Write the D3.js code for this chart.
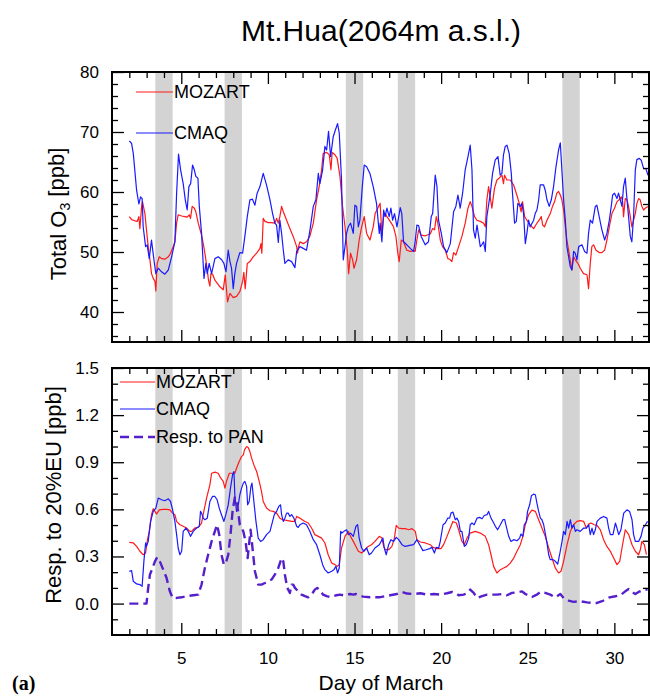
<!DOCTYPE html>
<html>
<head>
<meta charset="utf-8">
<script src="https://cdn.jsdelivr.net/npm/d3@7"></script>
<style>
  html, body { margin: 0; padding: 0; background: #fff; }
  svg { display: block; font-family: "Liberation Sans", Arial, Helvetica, sans-serif; }
</style>
</head>
<body>
<svg id="chart" width="650" height="696"></svg>
<script>
// Mt.Hua surface ozone, March: total O3 and response to a 20% EU emission cut.
// Each series is a list of [day of March, value] pairs.

const stormDays = [[3.5, 4.5], [7.5, 8.5], [14.5, 15.5], [17.5, 18.5], [27, 28]];

const totalMozart = [[2.00,55.9],[2.13,55.4],[2.32,55.2],[2.46,55.1],[2.55,55.9],[2.61,53.9],[2.71,57.6],[2.76,58.4],[2.90,56.4],[2.99,53.7],[3.09,50.9],[3.19,48.7],[3.28,46.4],[3.38,45.6],[3.48,45.1],[3.53,43.5],[3.61,48.1],[3.73,49.2],[3.86,48.9],[4.05,48.8],[4.25,49.2],[4.38,49.8],[4.53,50.9],[4.63,51.7],[4.73,54.8],[4.82,56.2],[5.02,56.0],[5.21,55.9],[5.34,55.8],[5.46,56.2],[5.53,55.6],[5.63,57.6],[5.75,57.3],[5.84,56.7],[5.98,54.8],[6.17,52.8],[6.30,50.9],[6.42,48.7],[6.50,47.0],[6.57,45.3],[6.65,44.3],[6.71,46.4],[6.81,46.3],[6.94,45.3],[7.07,44.8],[7.23,44.2],[7.42,43.7],[7.54,46.2],[7.61,43.7],[7.67,41.7],[7.81,43.1],[8.00,42.4],[8.19,42.6],[8.38,43.4],[8.54,45.1],[8.61,46.6],[8.69,43.9],[8.81,48.1],[8.96,48.4],[9.15,49.2],[9.35,49.8],[9.54,50.6],[9.60,51.4],[9.65,49.8],[9.73,55.6],[9.83,55.1],[10.02,54.9],[10.21,54.9],[10.40,54.8],[10.50,55.6],[10.60,54.8],[10.69,55.9],[10.79,57.6],[10.89,56.7],[11.08,55.3],[11.27,53.9],[11.46,52.6],[11.66,50.9],[11.71,49.8],[11.77,50.9],[11.85,51.7],[12.04,51.4],[12.23,51.7],[12.42,52.6],[12.62,54.8],[12.81,58.7],[12.96,60.9],[13.10,63.7],[13.19,66.4],[13.39,66.6],[13.54,66.2],[13.64,63.7],[13.71,66.6],[13.87,66.2],[14.00,65.6],[14.16,62.6],[14.31,57.6],[14.45,54.2],[14.58,50.3],[14.66,46.4],[14.77,49.8],[14.89,48.7],[14.97,47.3],[15.12,48.7],[15.27,52.0],[15.41,54.2],[15.56,55.9],[15.70,53.1],[15.89,52.0],[16.08,54.2],[16.19,56.4],[16.39,57.6],[16.48,58.1],[16.58,52.8],[16.68,55.9],[16.77,56.4],[16.87,55.9],[17.06,55.1],[17.25,54.2],[17.39,52.6],[17.50,49.8],[17.58,48.4],[17.70,52.0],[17.83,51.7],[18.02,50.3],[18.22,50.1],[18.41,50.2],[18.50,50.1],[18.60,52.0],[18.70,53.7],[18.85,52.8],[19.08,52.7],[19.37,53.0],[19.51,53.9],[19.62,53.7],[19.72,55.9],[19.81,54.8],[19.95,52.0],[20.08,50.9],[20.24,50.3],[20.39,48.9],[20.49,48.8],[20.62,48.4],[20.72,49.9],[20.85,49.5],[21.01,50.9],[21.20,52.6],[21.39,54.8],[21.55,57.3],[21.68,58.4],[21.78,57.6],[21.93,55.9],[22.06,55.3],[22.26,55.1],[22.45,54.8],[22.55,54.2],[22.64,58.7],[22.74,60.9],[22.83,59.2],[22.93,57.3],[23.08,60.6],[23.22,62.0],[23.35,62.3],[23.51,62.8],[23.60,61.4],[23.66,62.8],[23.80,62.0],[23.99,62.0],[24.18,61.2],[24.37,59.5],[24.51,58.1],[24.62,56.7],[24.70,58.4],[24.82,55.9],[24.95,55.3],[25.14,54.5],[25.34,53.9],[25.53,54.8],[25.66,55.3],[25.78,55.9],[25.86,54.5],[25.97,54.2],[26.11,55.3],[26.30,56.4],[26.43,57.6],[26.55,58.4],[26.68,59.8],[26.78,60.1],[26.88,59.5],[26.97,58.7],[27.07,57.0],[27.17,54.2],[27.26,52.0],[27.36,50.3],[27.45,48.7],[27.55,47.0],[27.65,49.2],[27.74,48.7],[27.90,48.1],[28.03,47.3],[28.22,46.4],[28.42,46.2],[28.51,43.9],[28.61,48.1],[28.70,50.9],[28.80,51.2],[28.94,50.3],[29.13,49.9],[29.28,49.9],[29.44,50.3],[29.57,52.0],[29.71,54.2],[29.86,56.4],[30.01,57.3],[30.15,58.4],[30.28,58.7],[30.40,59.2],[30.48,58.4],[30.53,55.9],[30.63,58.9],[30.73,58.7],[30.82,57.6],[30.92,55.9],[31.01,54.2],[31.11,55.3],[31.21,56.4],[31.30,58.1],[31.40,58.9],[31.49,58.7],[31.59,57.6],[31.69,57.0],[31.78,57.3],[31.94,57.6]];

const totalCmaq = [[2.00,68.5],[2.13,68.1],[2.23,66.4],[2.42,60.3],[2.55,58.0],[2.65,59.2],[2.74,58.9],[2.80,54.2],[2.94,50.9],[3.03,51.2],[3.15,48.9],[3.28,52.0],[3.42,48.7],[3.53,46.4],[3.67,47.3],[3.86,46.7],[4.05,46.3],[4.25,47.0],[4.44,49.2],[4.63,51.7],[4.73,59.8],[4.84,66.3],[4.96,63.7],[5.11,61.4],[5.23,58.7],[5.34,57.0],[5.44,60.9],[5.54,61.4],[5.65,64.5],[5.75,63.7],[5.84,62.6],[5.96,62.3],[6.04,57.6],[6.17,53.1],[6.31,45.6],[6.42,48.1],[6.50,46.4],[6.61,48.1],[6.75,46.4],[6.94,48.9],[7.13,49.2],[7.33,48.7],[7.46,48.1],[7.58,46.7],[7.71,50.3],[7.81,48.4],[7.90,47.3],[8.00,43.9],[8.09,46.4],[8.19,48.1],[8.38,49.9],[8.54,49.8],[8.67,52.6],[8.81,55.9],[8.96,58.7],[9.11,58.8],[9.25,57.8],[9.38,59.8],[9.54,60.9],[9.73,63.1],[9.92,61.2],[10.12,58.7],[10.27,56.4],[10.40,54.8],[10.50,54.5],[10.60,51.6],[10.69,55.3],[10.79,53.1],[10.89,50.3],[10.98,48.1],[11.17,48.7],[11.37,48.4],[11.56,47.4],[11.66,50.1],[11.85,50.9],[12.04,50.6],[12.23,50.3],[12.43,53.7],[12.62,57.6],[12.77,58.7],[12.91,63.1],[13.00,61.4],[13.16,63.7],[13.29,67.6],[13.39,67.0],[13.50,70.1],[13.62,65.9],[13.77,69.2],[13.89,70.3],[14.02,71.4],[14.12,69.8],[14.25,62.0],[14.35,48.7],[14.45,50.9],[14.54,53.1],[14.64,54.2],[14.77,54.8],[14.93,53.1],[15.02,57.8],[15.12,57.6],[15.22,54.2],[15.31,55.3],[15.45,60.9],[15.56,64.5],[15.70,64.2],[15.89,63.1],[16.08,60.9],[16.27,58.1],[16.43,53.1],[16.48,54.8],[16.58,51.7],[16.68,57.0],[16.77,55.9],[16.87,57.3],[17.00,55.9],[17.10,57.3],[17.20,55.3],[17.31,56.4],[17.45,54.2],[17.64,57.4],[17.73,56.4],[17.83,51.7],[18.02,51.2],[18.22,50.6],[18.41,50.1],[18.50,51.7],[18.60,54.5],[18.70,54.4],[18.85,52.6],[19.08,51.2],[19.27,51.7],[19.43,55.9],[19.51,56.4],[19.66,62.8],[19.76,60.9],[19.85,55.3],[20.01,53.1],[20.14,50.9],[20.33,49.9],[20.53,51.4],[20.72,56.7],[20.85,57.6],[20.97,59.5],[21.10,57.3],[21.24,59.8],[21.39,63.7],[21.55,65.9],[21.68,67.8],[21.78,63.7],[21.87,53.7],[21.97,52.3],[22.07,54.5],[22.16,52.8],[22.26,50.9],[22.35,51.2],[22.45,51.7],[22.55,50.1],[22.64,55.9],[22.84,59.8],[22.97,63.1],[23.12,65.3],[23.28,65.9],[23.41,62.8],[23.51,63.1],[23.60,66.2],[23.70,67.6],[23.80,67.8],[23.93,66.4],[24.05,63.1],[24.12,59.8],[24.24,54.8],[24.34,55.1],[24.43,58.1],[24.57,57.6],[24.66,58.1],[24.76,56.4],[24.86,51.4],[24.95,53.1],[25.05,55.3],[25.14,54.2],[25.34,55.3],[25.43,56.4],[25.53,57.0],[25.63,58.7],[25.72,61.2],[25.91,61.2],[26.01,60.3],[26.11,58.7],[26.24,57.6],[26.36,58.7],[26.49,60.9],[26.63,64.2],[26.78,67.0],[26.88,68.2],[26.97,63.7],[27.07,58.7],[27.17,55.3],[27.26,50.9],[27.36,49.2],[27.45,47.6],[27.55,47.0],[27.65,50.1],[27.74,49.8],[27.84,48.7],[27.94,50.9],[28.13,51.2],[28.28,50.1],[28.42,49.8],[28.51,53.1],[28.61,55.3],[28.74,54.8],[28.90,57.6],[28.99,57.8],[29.09,56.4],[29.28,53.7],[29.44,52.0],[29.57,53.1],[29.71,55.3],[29.82,57.6],[29.90,59.5],[30.01,59.8],[30.15,58.9],[30.24,59.8],[30.34,58.7],[30.44,57.6],[30.53,60.9],[30.63,62.3],[30.73,58.7],[30.82,55.9],[30.92,52.6],[31.01,51.7],[31.11,55.9],[31.21,63.7],[31.30,65.4],[31.44,65.6],[31.55,65.3],[31.69,63.9],[31.82,63.9],[31.94,62.8]];

const respMozart = [[2.00,0.39],[2.23,0.386],[2.42,0.364],[2.61,0.333],[2.80,0.311],[2.94,0.322],[3.03,0.396],[3.15,0.46],[3.28,0.566],[3.38,0.604],[3.48,0.587],[3.57,0.57],[3.73,0.597],[3.96,0.60],[4.15,0.60],[4.34,0.597],[4.50,0.576],[4.63,0.566],[4.73,0.523],[4.92,0.502],[5.11,0.492],[5.30,0.481],[5.50,0.46],[5.59,0.46],[5.78,0.481],[5.98,0.485],[6.17,0.513],[6.30,0.587],[6.46,0.672],[6.65,0.756],[6.75,0.83],[6.94,0.837],[7.13,0.83],[7.27,0.80],[7.42,0.778],[7.52,0.735],[7.61,0.778],[7.77,0.83],[7.90,0.83],[8.09,0.83],[8.19,0.862],[8.34,0.905],[8.48,0.936],[8.58,0.947],[8.65,0.979],[8.77,1.0],[8.86,0.994],[8.96,0.968],[9.06,0.926],[9.19,0.883],[9.35,0.841],[9.50,0.778],[9.63,0.714],[9.73,0.65],[9.92,0.608],[10.12,0.591],[10.31,0.587],[10.50,0.576],[10.69,0.544],[10.85,0.534],[11.08,0.53],[11.37,0.523],[11.56,0.523],[11.66,0.555],[11.85,0.544],[12.14,0.523],[12.33,0.513],[12.52,0.481],[12.71,0.439],[12.91,0.428],[13.10,0.417],[13.29,0.386],[13.48,0.311],[13.68,0.258],[13.87,0.248],[14.00,0.237],[14.12,0.248],[14.25,0.354],[14.45,0.428],[14.64,0.46],[14.77,0.428],[14.93,0.396],[15.08,0.364],[15.22,0.333],[15.41,0.322],[15.60,0.343],[15.79,0.364],[15.98,0.375],[16.18,0.396],[16.43,0.428],[16.58,0.417],[16.68,0.364],[16.78,0.343],[16.97,0.343],[17.16,0.364],[17.30,0.417],[17.41,0.498],[17.55,0.481],[17.74,0.477],[17.93,0.477],[18.12,0.47],[18.32,0.477],[18.51,0.46],[18.60,0.407],[18.80,0.392],[19.09,0.386],[19.37,0.375],[19.53,0.358],[19.76,0.35],[19.99,0.35],[20.14,0.375],[20.34,0.428],[20.53,0.481],[20.68,0.523],[20.88,0.513],[21.01,0.47],[21.20,0.396],[21.34,0.375],[21.49,0.417],[21.68,0.449],[21.97,0.46],[22.26,0.449],[22.55,0.428],[22.74,0.375],[22.88,0.311],[23.03,0.237],[23.22,0.195],[23.42,0.216],[23.61,0.227],[23.80,0.237],[23.99,0.258],[24.19,0.29],[24.38,0.333],[24.57,0.375],[24.72,0.428],[24.86,0.502],[25.05,0.566],[25.24,0.595],[25.44,0.587],[25.63,0.534],[25.82,0.481],[26.01,0.428],[26.21,0.354],[26.40,0.29],[26.59,0.227],[26.78,0.195],[26.92,0.206],[27.07,0.269],[27.27,0.375],[27.46,0.46],[27.65,0.502],[27.84,0.523],[28.03,0.528],[28.23,0.523],[28.38,0.481],[28.52,0.506],[28.65,0.513],[28.84,0.502],[29.00,0.498],[29.19,0.47],[29.38,0.407],[29.57,0.364],[29.77,0.333],[29.96,0.29],[30.15,0.248],[30.31,0.269],[30.44,0.354],[30.63,0.47],[30.83,0.439],[31.02,0.375],[31.21,0.333],[31.40,0.311],[31.50,0.343],[31.59,0.396],[31.73,0.375],[31.85,0.311]];

const respCmaq = [[2.00,0.205],[2.13,0.21],[2.23,0.142],[2.42,0.125],[2.61,0.121],[2.74,0.11],[2.84,0.269],[2.94,0.386],[2.99,0.364],[3.09,0.396],[3.23,0.523],[3.38,0.587],[3.53,0.608],[3.67,0.672],[3.86,0.661],[4.05,0.655],[4.25,0.667],[4.38,0.65],[4.50,0.597],[4.63,0.523],[4.73,0.439],[4.82,0.354],[4.92,0.311],[5.02,0.333],[5.11,0.46],[5.27,0.481],[5.40,0.46],[5.53,0.428],[5.69,0.46],[5.88,0.481],[6.04,0.492],[6.11,0.587],[6.17,0.576],[6.27,0.544],[6.36,0.534],[6.50,0.544],[6.65,0.65],[6.80,0.682],[6.94,0.682],[7.07,0.661],[7.19,0.608],[7.32,0.566],[7.46,0.523],[7.57,0.566],[7.71,0.629],[7.84,0.735],[7.96,0.82],[8.04,0.841],[8.09,0.693],[8.19,0.587],[8.29,0.629],[8.38,0.693],[8.48,0.735],[8.58,0.767],[8.67,0.778],[8.77,0.746],[8.83,0.629],[8.92,0.65],[9.02,0.746],[9.08,0.767],[9.15,0.693],[9.31,0.523],[9.44,0.417],[9.58,0.396],[9.73,0.407],[9.92,0.439],[10.12,0.46],[10.27,0.523],[10.37,0.566],[10.50,0.587],[10.63,0.619],[10.73,0.629],[10.79,0.566],[10.89,0.523],[10.98,0.544],[11.08,0.576],[11.17,0.576],[11.27,0.555],[11.37,0.566],[11.50,0.544],[11.66,0.492],[11.75,0.485],[11.85,0.502],[12.04,0.513],[12.23,0.502],[12.42,0.46],[12.62,0.407],[12.81,0.375],[13.00,0.311],[13.16,0.248],[13.29,0.216],[13.48,0.195],[13.68,0.206],[13.81,0.216],[13.93,0.237],[14.02,0.195],[14.12,0.227],[14.20,0.46],[14.27,0.449],[14.39,0.46],[14.54,0.47],[14.64,0.439],[14.77,0.449],[14.93,0.428],[15.08,0.492],[15.18,0.502],[15.27,0.417],[15.41,0.354],[15.54,0.333],[15.70,0.354],[15.85,0.311],[15.98,0.322],[16.18,0.354],[16.43,0.375],[16.64,0.417],[16.72,0.354],[16.83,0.311],[16.97,0.375],[17.10,0.407],[17.26,0.396],[17.41,0.422],[17.55,0.407],[17.74,0.375],[17.93,0.364],[18.18,0.371],[18.41,0.375],[18.60,0.407],[18.76,0.375],[18.95,0.337],[19.14,0.343],[19.34,0.35],[19.47,0.358],[19.61,0.322],[19.72,0.358],[19.86,0.354],[19.95,0.396],[20.11,0.502],[20.24,0.513],[20.38,0.544],[20.49,0.544],[20.57,0.576],[20.68,0.583],[20.82,0.534],[20.91,0.544],[21.01,0.523],[21.11,0.46],[21.20,0.46],[21.34,0.364],[21.45,0.375],[21.59,0.417],[21.68,0.502],[21.78,0.513],[21.91,0.502],[22.07,0.544],[22.22,0.549],[22.36,0.54],[22.49,0.561],[22.65,0.566],[22.74,0.587],[22.88,0.544],[22.99,0.523],[23.13,0.492],[23.26,0.47],[23.42,0.502],[23.57,0.534],[23.67,0.534],[23.76,0.492],[23.90,0.428],[24.03,0.396],[24.19,0.407],[24.38,0.40],[24.53,0.417],[24.61,0.443],[24.72,0.428],[24.80,0.502],[24.92,0.523],[24.99,0.587],[25.11,0.629],[25.21,0.686],[25.34,0.697],[25.44,0.693],[25.53,0.64],[25.63,0.587],[25.73,0.544],[25.82,0.534],[25.92,0.502],[26.01,0.449],[26.11,0.386],[26.21,0.311],[26.30,0.28],[26.46,0.28],[26.59,0.269],[26.73,0.252],[26.84,0.311],[26.98,0.396],[27.07,0.46],[27.17,0.439],[27.27,0.523],[27.36,0.481],[27.46,0.534],[27.55,0.481],[27.65,0.502],[27.75,0.46],[27.84,0.47],[28.03,0.46],[28.23,0.481],[28.38,0.481],[28.52,0.502],[28.61,0.439],[28.71,0.481],[28.80,0.439],[28.90,0.47],[29.00,0.523],[29.19,0.544],[29.38,0.555],[29.57,0.544],[29.67,0.481],[29.77,0.439],[29.92,0.439],[30.06,0.513],[30.15,0.481],[30.25,0.439],[30.38,0.47],[30.54,0.576],[30.73,0.597],[30.88,0.587],[31.02,0.534],[31.11,0.439],[31.21,0.396],[31.40,0.396],[31.54,0.428],[31.65,0.481],[31.79,0.502],[31.92,0.523]];

const respPan = [[2.00,0.0],[2.99,0.0],[3.09,0.10],[3.19,0.184],[3.34,0.227],[3.48,0.269],[3.61,0.295],[3.76,0.269],[3.96,0.216],[4.15,0.163],[4.34,0.078],[4.50,0.036],[4.73,0.036],[5.02,0.04],[5.30,0.047],[5.69,0.053],[5.98,0.057],[6.17,0.121],[6.36,0.227],[6.55,0.311],[6.75,0.396],[7.00,0.481],[7.07,0.502],[7.19,0.439],[7.32,0.311],[7.46,0.248],[7.57,0.258],[7.71,0.311],[7.84,0.439],[7.96,0.587],[8.09,0.676],[8.23,0.629],[8.38,0.502],[8.58,0.46],[8.71,0.396],[8.83,0.29],[8.92,0.386],[9.00,0.47],[9.11,0.354],[9.25,0.206],[9.44,0.121],[9.63,0.121],[9.83,0.131],[10.02,0.142],[10.21,0.153],[10.40,0.184],[10.60,0.227],[10.79,0.29],[10.89,0.269],[10.98,0.184],[11.12,0.10],[11.27,0.068],[11.37,0.121],[11.46,0.121],[11.56,0.10],[11.75,0.078],[11.94,0.057],[12.14,0.047],[12.33,0.04],[12.52,0.057],[12.71,0.089],[12.85,0.10],[13.00,0.083],[13.19,0.057],[13.39,0.047],[13.58,0.042],[13.77,0.047],[13.96,0.053],[14.16,0.057],[14.35,0.053],[14.54,0.057],[14.73,0.061],[14.93,0.057],[15.08,0.061],[15.22,0.053],[15.50,0.044],[15.89,0.04],[16.18,0.04],[16.43,0.04],[17.06,0.053],[17.45,0.061],[17.74,0.074],[18.03,0.064],[18.41,0.061],[18.80,0.066],[19.18,0.057],[19.57,0.061],[19.95,0.057],[20.34,0.066],[20.63,0.074],[20.82,0.068],[21.01,0.053],[21.30,0.057],[21.53,0.068],[21.68,0.089],[21.88,0.068],[22.07,0.036],[22.36,0.047],[22.65,0.057],[22.93,0.057],[23.22,0.057],[23.51,0.061],[23.80,0.053],[24.09,0.068],[24.38,0.072],[24.67,0.078],[24.86,0.061],[25.24,0.042],[25.53,0.057],[25.73,0.074],[26.01,0.068],[26.30,0.057],[26.59,0.04],[26.88,0.061],[27.07,0.036],[27.36,0.019],[27.65,0.011],[28.03,0.015],[28.42,0.008],[28.71,0.004],[29.00,0.004],[29.29,0.015],[29.48,0.025],[29.73,0.04],[30.06,0.047],[30.34,0.053],[30.63,0.078],[30.83,0.093],[31.02,0.074],[31.21,0.061],[31.40,0.074],[31.60,0.083],[31.79,0.089],[31.92,0.089]];

// Axis ticks
const dayMajor = [5, 10, 15, 20, 25, 30];
const dayMinor = d3.range(2, 32).filter(d => d % 5 !== 0);
const o3Major = [40, 50, 60, 70, 80];
const o3Minor = d3.range(36, 80, 2).filter(d => d % 10 !== 0);
const respMajor = [0.0, 0.3, 0.6, 0.9, 1.2, 1.5];
const respMinor = [-0.1, 0.1, 0.2, 0.4, 0.5, 0.7, 0.8, 1.0, 1.1, 1.3, 1.4];

const COLORS = { mozart: "#ff1a1a", cmaq: "#1a1aff", pan: "#5520cc", band: "#d3d3d3" };

const svg = d3.select("#chart");
const left = 112, right = 649;

const x = d3.scaleLinear().domain([1, 32]).range([left, right]);

const panels = [
  { top: 72, bottom: 342, domain: [35, 80], major: o3Major, minor: o3Minor, fmt: d3.format("d"),
    series: [
      { data: totalMozart, color: COLORS.mozart, width: 1.2 },
      { data: totalCmaq, color: COLORS.cmaq, width: 1.2 }
    ],
    xLabels: false,
    legend: [
      { label: "MOZART", color: COLORS.mozart, x0: 136, x1: 173, y: 92, tx: 174, width: 1.2 },
      { label: "CMAQ", color: COLORS.cmaq, x0: 136, x1: 173, y: 133, tx: 174, width: 1.2 }
    ] },
  { top: 368, bottom: 635, domain: [-0.2, 1.5], major: respMajor, minor: respMinor, fmt: d3.format(".1f"),
    series: [
      { data: respMozart, color: COLORS.mozart, width: 1.2 },
      { data: respCmaq, color: COLORS.cmaq, width: 1.2 },
      { data: respPan, color: COLORS.pan, width: 2.4, dash: "9,5" }
    ],
    xLabels: true,
    legend: [
      { label: "MOZART", color: COLORS.mozart, x0: 120, x1: 155, y: 382, tx: 156, width: 1.2 },
      { label: "CMAQ", color: COLORS.cmaq, x0: 120, x1: 155, y: 409, tx: 156, width: 1.2 },
      { label: "Resp. to PAN", color: COLORS.pan, x0: 120, x1: 155, y: 437, tx: 156, width: 2.4, dash: "9,5" }
    ] }
];

panels.forEach((p, i) => {
  const y = d3.scaleLinear().domain(p.domain).range([p.bottom, p.top]);
  const g = svg.append("g");
  const clipId = "clip" + i;
  svg.append("clipPath").attr("id", clipId)
    .append("rect").attr("x", left).attr("y", p.top).attr("width", right - left).attr("height", p.bottom - p.top);

  // shaded days
  g.append("g").selectAll("rect").data(stormDays).join("rect")
    .attr("x", d => x(d[0])).attr("width", d => x(d[1]) - x(d[0]))
    .attr("y", p.top).attr("height", p.bottom - p.top)
    .attr("fill", COLORS.band);

  // series lines
  const line = d3.line().x(d => x(d[0])).y(d => y(d[1]));
  g.append("g").attr("clip-path", `url(#${clipId})`)
    .selectAll("path").data(p.series).join("path")
    .attr("d", s => line(s.data))
    .attr("fill", "none")
    .attr("stroke", s => s.color)
    .attr("stroke-width", s => s.width)
    .attr("stroke-dasharray", s => s.dash || null)
    .attr("stroke-linejoin", "round");

  // legend
  const lg = g.append("g");
  p.legend.forEach(l => {
    lg.append("line").attr("x1", l.x0).attr("x2", l.x1).attr("y1", l.y).attr("y2", l.y)
      .attr("stroke", l.color).attr("stroke-width", l.width).attr("stroke-dasharray", l.dash || null);
    lg.append("text").attr("x", l.tx).attr("y", l.y).attr("dy", "0.36em")
      .attr("font-size", 18).attr("fill", "#000").text(l.label);
  });

  // ticks on all four sides, pointing inward
  const addAxis = (axis, tx, ty, labels) => {
    const a = g.append("g").attr("transform", `translate(${tx},${ty})`).call(axis);
    a.select(".domain").remove();
    a.selectAll(".tick line").attr("stroke", "#000").attr("stroke-width", 1.3);
    a.selectAll("text").attr("font-size", 17).attr("fill", "#000")
      .attr("font-family", "'Liberation Sans', Arial, sans-serif");
    if (!labels) a.selectAll("text").remove();
    return a;
  };
  addAxis(d3.axisBottom(x).tickValues(dayMajor).tickSize(-12).tickPadding(17).tickFormat(d3.format("d")), 0, p.bottom, p.xLabels);
  addAxis(d3.axisBottom(x).tickValues(dayMinor).tickSize(-6), 0, p.bottom, false);
  addAxis(d3.axisTop(x).tickValues(dayMajor).tickSize(-12), 0, p.top, false);
  addAxis(d3.axisTop(x).tickValues(dayMinor).tickSize(-6), 0, p.top, false);
  addAxis(d3.axisLeft(y).tickValues(p.major).tickSize(-12).tickPadding(13).tickFormat(p.fmt), left, 0, true);
  addAxis(d3.axisLeft(y).tickValues(p.minor).tickSize(-6), left, 0, false);
  addAxis(d3.axisRight(y).tickValues(p.major).tickSize(-12), right, 0, false);
  addAxis(d3.axisRight(y).tickValues(p.minor).tickSize(-6), right, 0, false);

  // frame
  g.append("rect").attr("x", left).attr("y", p.top)
    .attr("width", right - left).attr("height", p.bottom - p.top)
    .attr("fill", "none").attr("stroke", "#000").attr("stroke-width", 2);
});

// titles
svg.append("text").attr("x", 381).attr("y", 41).attr("text-anchor", "middle")
  .attr("font-size", 30).text("Mt.Hua(2064m a.s.l.)");

const t1 = svg.append("text").attr("transform", "translate(66,214) rotate(-90)")
  .attr("text-anchor", "middle").attr("font-size", 22);
t1.append("tspan").text("Total O");
t1.append("tspan").attr("font-size", 14).attr("dy", "0.3em").text("3");
t1.append("tspan").attr("dy", "-0.3em").text(" [ppb]");

svg.append("text").attr("transform", "translate(61,495) rotate(-90)")
  .attr("text-anchor", "middle").attr("font-size", 22).text("Resp. to 20%EU [ppb]");

svg.append("text").attr("x", 381).attr("y", 690).attr("text-anchor", "middle")
  .attr("font-size", 21).text("Day of March");

svg.append("text").attr("x", 12).attr("y", 690)
  .attr("font-family", "'Liberation Serif', 'Times New Roman', serif")
  .attr("font-weight", "bold").attr("font-size", 20).text("(a)");
</script>
</body>
</html>
